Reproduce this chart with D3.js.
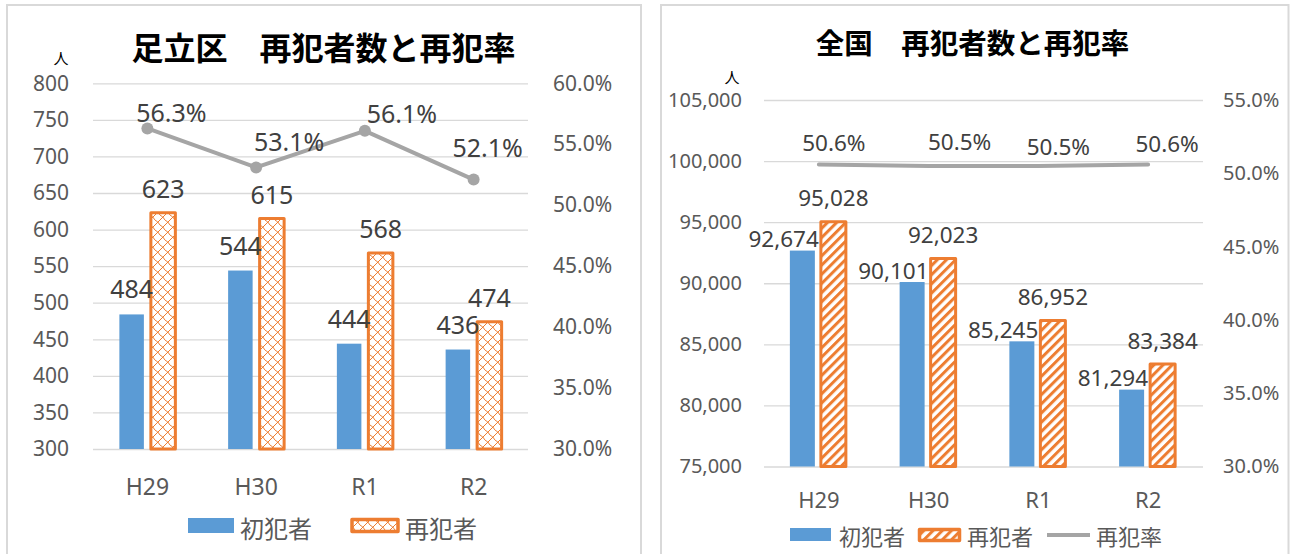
<!DOCTYPE html>
<html><head><meta charset="utf-8">
<script src="https://cdn.jsdelivr.net/npm/d3@7"></script>
<style>
html,body{margin:0;padding:0;background:#fff;}
svg{display:block;}
text{font-family:"Noto Sans","Noto Sans CJK JP",sans-serif;}
</style></head><body>
<svg id="chart" width="1290" height="554"></svg>
<script>
// ---- data ----
const categories = ["H29", "H30", "R1", "R2"];
const adachiFirst = [484, 544, 444, 436];
const adachiRepeat = [623, 615, 568, 474];
const adachiRate = [0.563, 0.531, 0.561, 0.521];
const zenkokuFirst = [92674, 90101, 85245, 81294];
const zenkokuRepeat = [95028, 92023, 86952, 83384];
const zenkokuRate = [0.506, 0.505, 0.505, 0.506];
const adachiCountTicks = [300, 350, 400, 450, 500, 550, 600, 650, 700, 750, 800];
const adachiRateTicks = [0.30, 0.35, 0.40, 0.45, 0.50, 0.55, 0.60];
const zenkokuCountTicks = [75000, 80000, 85000, 90000, 95000, 100000, 105000];
const zenkokuRateTicks = [0.30, 0.35, 0.40, 0.45, 0.50, 0.55];
const seriesNames = ["初犯者", "再犯者", "再犯率"];
const titles = ["足立区　再犯者数と再犯率", "全国　再犯者数と再犯率"];
const unitLabel = "人";

// ---- colours ----
const BLUE = "#5b9bd5", ORANGE = "#ed7d31", GRAY = "#a5a5a5", GRID = "#d9d9d9";
const TICK = "#595959", LABEL = "#404040";
const NUMFONT = "Noto Sans";

const svg = d3.select("#chart");
const defs = svg.append("defs");

// shingle-like lattice pattern (left chart)
const p1 = defs.append("pattern").attr("id", "shingle").attr("patternUnits", "userSpaceOnUse")
  .attr("width", 10).attr("height", 10);
p1.append("rect").attr("width", 10).attr("height", 10).attr("fill", "#fff");
p1.append("path").attr("d", "M0,10 L10,0 M0,5 Q3,6.5 5,10 M5,0 Q8,1.5 10,5")
  .attr("fill", "none").attr("stroke", ORANGE).attr("stroke-width", 1);

// wide upward diagonal stripes (right chart)
const p2 = defs.append("pattern").attr("id", "stripes").attr("patternUnits", "userSpaceOnUse")
  .attr("width", 6.5).attr("height", 6.5).attr("patternTransform", "rotate(45)");
p2.append("rect").attr("width", 6.5).attr("height", 6.5).attr("fill", "#fff");
p2.append("rect").attr("width", 3).attr("height", 6.5).attr("fill", ORANGE);

function drawChart(cfg) {
  const g = svg.append("g");
  g.append("rect").attr("x", cfg.panel[0]).attr("y", cfg.panel[1])
    .attr("width", cfg.panel[2]).attr("height", cfg.panel[3])
    .attr("fill", "#fff").attr("stroke", GRID).attr("stroke-width", 2);

  const P = cfg.plot;
  const x = d3.scaleBand().domain(categories).range([P.left, P.right]).padding(0);
  const xc = c => x(c) + x.bandwidth() / 2;
  const inner = d3.scaleBand().domain(["first", "repeat"]).range(cfg.innerRange).paddingInner(cfg.innerPad);
  const yL = d3.scaleLinear().domain(d3.extent(cfg.countTicks)).range([P.bottom, P.top]);
  const yR = d3.scaleLinear().domain(d3.extent(cfg.rateTicks)).range([P.bottom, P.top]);

  // gridlines
  const grid = g.append("g").attr("transform", `translate(${P.left},0)`)
    .call(d3.axisLeft(yL).tickValues(cfg.countTicks).tickSize(-(P.right - P.left)).tickFormat(""));
  grid.select(".domain").remove();
  grid.selectAll("line").attr("stroke", GRID).attr("stroke-width", 1.3);

  // left axis labels
  const la = g.append("g").attr("transform", `translate(${cfg.leftLabelX},0)`)
    .call(d3.axisLeft(yL).tickValues(cfg.countTicks).tickSize(0).tickPadding(0).tickFormat(d3.format(",")));
  la.select(".domain").remove();
  la.selectAll("text").attr("fill", TICK).style("font-size", cfg.tickSize + "px")
    .style("font-family", NUMFONT);

  // right axis labels
  const ra = g.append("g").attr("transform", `translate(${cfg.rightLabelX},0)`)
    .call(d3.axisRight(yR).tickValues(cfg.rateTicks).tickSize(0).tickPadding(0).tickFormat(d3.format(".1%")));
  ra.select(".domain").remove();
  ra.selectAll("text").attr("fill", TICK).style("font-size", cfg.tickSize + "px")
    .style("font-family", NUMFONT);

  // category axis
  const ca = g.append("g").attr("transform", `translate(0,${cfg.catY})`)
    .call(d3.axisBottom(x).tickSize(0).tickPadding(0));
  ca.select(".domain").remove();
  ca.selectAll("text").attr("fill", TICK).attr("dy", "0.36em").style("font-size", cfg.catSize + "px")
    .style("font-family", NUMFONT);

  // title & unit
  g.append("text").attr("x", cfg.title.x).attr("y", cfg.title.y).attr("text-anchor", "middle")
    .attr("dominant-baseline", "central").style("font-family", "Noto Sans CJK JP")
    .style("font-weight", 700).style("font-size", cfg.title.size + "px").attr("fill", "#000")
    .text(cfg.title.text);
  g.append("text").attr("x", cfg.unit.x).attr("y", cfg.unit.y).attr("text-anchor", "middle")
    .attr("dominant-baseline", "central").style("font-family", "Noto Sans CJK JP")
    .style("font-size", cfg.unit.size + "px").attr("fill", "#000").text(unitLabel);

  // bars
  const rows = categories.map((c, i) => ({ c, first: cfg.first[i], repeat: cfg.repeat[i], rate: cfg.rate[i], i }));
  g.selectAll(".b1").data(rows).join("rect")
    .attr("x", d => xc(d.c) + inner("first")).attr("width", inner.bandwidth())
    .attr("y", d => yL(d.first)).attr("height", d => P.bottom - yL(d.first))
    .attr("fill", BLUE);
  g.selectAll(".b2").data(rows).join("rect")
    .attr("x", d => xc(d.c) + inner("repeat")).attr("width", inner.bandwidth())
    .attr("y", d => yL(d.repeat)).attr("height", d => P.bottom - yL(d.repeat))
    .attr("fill", `url(#${cfg.pattern})`).attr("stroke", ORANGE).attr("stroke-width", 3)
    .attr("stroke-linejoin", "round");

  // line
  const line = d3.line().x(d => xc(d.c)).y(d => yR(d.rate));
  g.append("path").datum(rows).attr("d", line).attr("fill", "none")
    .attr("stroke", GRAY).attr("stroke-width", cfg.lineWidth).attr("stroke-linecap", "round")
    .attr("stroke-linejoin", "round");
  if (cfg.markers) {
    g.selectAll(".mk").data(rows).join("circle")
      .attr("cx", d => xc(d.c)).attr("cy", d => yR(d.rate)).attr("r", 6).attr("fill", GRAY);
  }

  // labels
  const fmtCount = d3.format(",");
  g.selectAll(".l1").data(rows).join("text")
    .attr("x", d => cfg.firstLabelEnd ? xc(d.c) + inner("first") + inner.bandwidth() + cfg.firstLabelDx
                                      : xc(d.c) + inner("first") + inner.bandwidth() / 2)
    .attr("y", d => yL(d.first) + cfg.firstLabelDy)
    .attr("text-anchor", cfg.firstLabelEnd ? "end" : "middle").attr("dominant-baseline", "central")
    .style("font-family", NUMFONT)
    .style("font-size", cfg.labelSize + "px").attr("fill", LABEL).text(d => fmtCount(d.first));
  g.selectAll(".l2").data(rows).join("text")
    .attr("x", d => xc(d.c) + inner("repeat") + inner.bandwidth() / 2)
    .attr("y", d => yL(d.repeat) + cfg.repeatLabelDy)
    .attr("text-anchor", "middle").attr("dominant-baseline", "central")
    .style("font-family", NUMFONT)
    .style("font-size", cfg.labelSize + "px").attr("fill", LABEL).text(d => fmtCount(d.repeat));
  g.selectAll(".l3").data(rows).join("text")
    .attr("x", d => xc(d.c) + cfg.rateNudge[d.i][0])
    .attr("y", d => yR(d.rate) + cfg.rateNudge[d.i][1])
    .attr("text-anchor", "middle").attr("dominant-baseline", "central")
    .style("font-family", NUMFONT)
    .style("font-size", cfg.labelSize + "px").attr("fill", LABEL).text(d => d3.format(".1%")(d.rate));

  // legend
  const L = cfg.legend;
  g.append("rect").attr("x", L.blue[0]).attr("y", L.blue[1]).attr("width", L.blue[2]).attr("height", L.blue[3]).attr("fill", BLUE);
  g.append("rect").attr("x", L.orange[0]).attr("y", L.orange[1]).attr("width", L.orange[2]).attr("height", L.orange[3])
    .attr("fill", `url(#${cfg.pattern})`).attr("stroke", ORANGE).attr("stroke-width", 3.5).attr("stroke-linejoin", "round");
  if (L.line) {
    g.append("line").attr("x1", L.line[0]).attr("x2", L.line[1]).attr("y1", L.y).attr("y2", L.y)
      .attr("stroke", GRAY).attr("stroke-width", 4);
  }
  L.texts.forEach((tx, k) => {
    g.append("text").attr("x", tx).attr("y", L.y).attr("dominant-baseline", "central")
      .style("font-family", "Noto Sans CJK JP").style("font-size", L.size + "px")
      .attr("fill", TICK).text(seriesNames[k]);
  });
}

drawChart({
  panel: [7, 5, 634, 560],
  plot: { left: 93, right: 528, top: 83.3, bottom: 449 },
  countTicks: adachiCountTicks, rateTicks: adachiRateTicks,
  first: adachiFirst, repeat: adachiRepeat, rate: adachiRate,
  innerRange: [-28, 28], innerPad: 0.222,
  leftLabelX: 69, rightLabelX: 553, tickSize: 21,
  catY: 487, catSize: 23,
  title: { text: titles[0], x: 323.5, y: 46, size: 32 },
  unit: { x: 61, y: 57, size: 15 },
  pattern: "shingle", lineWidth: 4, markers: true,
  labelSize: 25, firstLabelEnd: false, firstLabelDy: -26, repeatLabelDy: -25,
  rateNudge: [[24, -16], [33, -26], [37, -18], [14, -33]],
  legend: { blue: [188, 518, 46, 15], orange: [352, 519.5, 46, 12], y: 527, texts: [240, 405], size: 24 }
});

drawChart({
  panel: [661, 5, 627.5, 560],
  plot: { left: 764, right: 1203, top: 100, bottom: 466.5 },
  countTicks: zenkokuCountTicks, rateTicks: zenkokuRateTicks,
  first: zenkokuFirst, repeat: zenkokuRepeat, rate: zenkokuRate,
  innerRange: [-29, 27], innerPad: 0.194,
  leftLabelX: 742, rightLabelX: 1223, tickSize: 20,
  catY: 500, catSize: 22,
  title: { text: titles[1], x: 972.5, y: 41, size: 28.5 },
  unit: { x: 732, y: 76, size: 15 },
  pattern: "stripes", lineWidth: 4, markers: false,
  labelSize: 22.5, firstLabelEnd: true, firstLabelDx: 4, firstLabelDy: -12, repeatLabelDy: -24,
  rateNudge: [[15, -22], [31, -24], [20, -19], [19, -21]],
  legend: { blue: [790, 528, 41, 13], orange: [919.5, 529.5, 40, 11], line: [1047, 1090], y: 535, texts: [839, 967, 1096], size: 22 }
});
</script>
</body></html>
